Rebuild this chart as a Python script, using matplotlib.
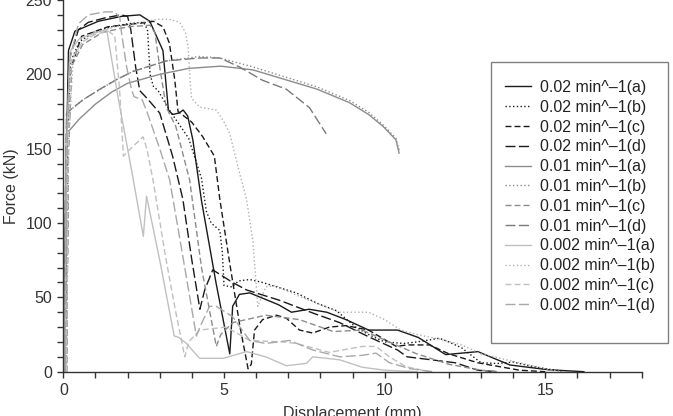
import matplotlib
matplotlib.use("Agg")
import matplotlib.pyplot as plt
from matplotlib.patches import Rectangle
from matplotlib.ticker import MultipleLocator

plt.rcParams['font.family'] = ['Liberation Sans', 'DejaVu Sans']
plt.rcParams['lines.scale_dashes'] = False

# displacement (mm) / force (kN)
x_02a = [0.05, 0.10, 0.16, 0.36, 1.09, 1.81, 2.38, 2.69, 2.85, 3.10, 3.27, 3.40, 3.60, 3.73, 3.87, 4.03, 4.30, 4.75, 5.18, 5.27, 5.48, 5.80, 6.70, 7.10, 7.65, 8.20, 8.80, 9.50, 10.40, 11.05, 11.90, 12.40, 12.90, 13.90, 15.10, 16.20]
f_02a = [0, 150, 216, 229, 235.7, 239, 240, 235.7, 228, 216, 176, 173, 174, 176, 172, 156, 115, 60, 12, 44, 52, 53, 45, 40, 42, 40, 35, 28, 28, 23, 11.5, 12.5, 13.5, 4.5, 1.3, 0]

x_02b = [0.08, 0.13, 0.22, 0.5, 1.0, 1.5, 2.0, 2.5, 2.62, 2.70, 2.80, 2.95, 3.30, 3.90, 4.30, 4.45, 4.60, 4.87, 4.95, 5.00, 5.25, 5.45, 5.80, 6.20, 7.25, 7.90, 8.50, 9.10, 9.50, 10.0, 10.6, 11.0, 11.7, 12.0, 12.4, 13.0, 13.5, 14.0, 14.5, 15.0, 15.5]
f_02b = [0, 150, 208, 222, 229, 232, 234, 235, 230, 200, 192, 189, 176, 157, 130, 108, 100, 95, 80, 58, 57, 61, 62, 60, 53, 46, 41, 30, 25, 20, 19, 20, 22.5, 20, 16, 6, 5.5, 6.5, 4, 2, 0.5]

x_02c = [0.10, 0.16, 0.25, 0.57, 1.39, 2.0, 2.64, 2.80, 3.10, 3.30, 3.47, 3.57, 3.99, 4.34, 4.70, 4.87, 5.20, 5.50, 5.75, 5.85, 5.95, 6.20, 6.63, 6.94, 7.35, 7.76, 8.28, 8.80, 9.50, 10.36, 10.70, 11.40, 12.0, 12.9, 14.2, 15.0]
f_02c = [0, 150, 205, 225.6, 232, 233.5, 235, 235.7, 232, 221, 196, 175, 168, 158, 145, 116, 70, 30, 2, 5, 28, 35, 38, 36, 28, 26, 30, 31, 28, 17, 18, 18, 12, 6, 1, 0]

x_02d = [0.05, 0.10, 0.18, 0.47, 0.78, 1.30, 1.80, 2.00, 2.10, 2.25, 2.38, 2.60, 3.00, 3.40, 3.72, 4.00, 4.25, 4.40, 4.65, 5.27, 5.70, 6.73, 7.76, 8.60, 9.50, 10.40, 10.70, 12.20, 12.90, 13.50]
f_02d = [0, 150, 210, 230, 235, 238, 240, 239, 230, 205, 189, 184, 174, 145, 116, 75, 42, 55, 68.5, 60, 55, 48, 39.5, 33, 23.5, 14.6, 10, 6, 1, 0]

x_01a = [0.02, 0.05, 0.10, 0.50, 1.00, 1.50, 2.00, 3.00, 3.90, 4.90, 5.90, 6.90, 7.90, 8.90, 9.50, 9.95, 10.35, 10.45]
f_01a = [0, 100, 160, 170, 180, 188, 194, 200, 204, 205.5, 203, 196.5, 190, 181, 173, 165, 156, 147]

x_01b = [0.04, 0.07, 0.10, 0.62, 1.14, 1.66, 2.17, 3.20, 4.24, 4.87, 5.90, 6.94, 7.90, 8.90, 9.50, 9.95, 10.35, 10.45]
f_01b = [0, 110, 174, 183, 190, 196.5, 202, 209, 212, 211, 205, 198, 191.5, 182.5, 174.5, 166, 157, 149]

x_01c = [0.10, 0.15, 0.25, 0.60, 1.20, 2.00, 2.70, 2.85, 3.00, 3.20, 3.50, 3.93, 4.30, 4.76, 4.90, 5.27, 6.30, 7.35, 8.40, 9.30, 10.35, 11.00, 12.00, 13.00, 13.50]
f_01c = [0, 150, 205, 220, 228, 232, 233, 228, 205, 178, 165, 129, 70, 17, 25, 33, 38, 35, 27, 28, 18, 12, 5, 1, 0]

x_01d = [0.03, 0.06, 0.10, 0.62, 1.14, 1.66, 2.17, 3.20, 4.24, 4.87, 5.48, 6.20, 6.94, 7.66, 8.18]
f_01d = [0, 110, 174, 183, 190, 196.5, 202, 209, 211, 211, 205, 196, 190, 177.6, 160]

x_002a = [0.05, 0.10, 0.20, 0.50, 1.00, 1.35, 1.70, 2.17, 2.49, 2.59, 3.00, 3.45, 3.60, 3.83, 4.24, 4.97, 5.30, 5.70, 6.30, 6.94, 7.57, 7.76, 8.60, 9.30, 10.00, 11.00]
f_002a = [0, 150, 215, 224, 228, 230, 185, 130, 91, 118, 75, 24, 23, 19, 9, 9, 11, 13.5, 10, 4, 5.6, 10, 8, 3, 1, 0]

x_002b = [0.10, 0.16, 0.30, 0.60, 1.00, 1.60, 2.20, 2.90, 3.30, 3.62, 3.80, 3.88, 3.95, 3.99, 4.24, 4.76, 5.00, 5.18, 5.48, 5.70, 5.90, 6.05, 6.30, 6.60, 7.20, 8.00, 8.60, 9.50, 10.00, 10.50, 11.00, 11.70, 12.40, 13.00, 14.00, 15.00, 15.50]
f_002b = [0, 150, 210, 222, 228, 232, 234, 237, 237, 235, 228, 219, 195, 184, 178, 176, 168, 160, 134, 116, 88, 44, 57, 58, 52, 45, 40, 40, 35, 28, 25, 22, 18, 12, 7, 2, 0]

x_002c = [0.10, 0.15, 0.25, 0.60, 1.00, 1.40, 1.60, 1.75, 1.87, 2.00, 2.48, 2.60, 2.79, 3.20, 3.50, 3.78, 3.90, 4.24, 5.07, 5.80, 6.84, 7.25, 8.28, 9.30, 9.73, 10.15, 10.66, 11.40]
f_002c = [0, 150, 210, 222, 227, 229, 226, 190, 145, 148, 158, 150, 129, 75, 40, 10, 20, 28, 30, 21, 20, 19, 13, 17, 17, 10, 3.4, 0]

x_002d = [0.05, 0.10, 0.20, 0.47, 0.78, 1.30, 1.60, 1.76, 1.81, 1.97, 2.12, 2.20, 2.45, 2.60, 3.00, 3.31, 3.70, 4.14, 4.25, 4.55, 4.76, 5.27, 5.80, 6.30, 7.04, 7.76, 8.60, 9.30, 9.73, 10.15, 10.80, 11.50]
f_002d = [0, 150, 210, 234, 240, 242, 242, 238, 228, 205, 190, 185, 183, 175, 150, 129, 80, 24, 30, 44, 44, 37, 21, 19, 21, 14.6, 10, 11, 12.5, 6, 2, 0]

labels = ['0.02 min^–1(a)', '0.02 min^–1(b)', '0.02 min^–1(c)', '0.02 min^–1(d)',
          '0.01 min^–1(a)', '0.01 min^–1(b)', '0.01 min^–1(c)', '0.01 min^–1(d)',
          '0.002 min^–1(a)', '0.002 min^–1(b)', '0.002 min^–1(c)', '0.002 min^–1(d)']

# line styles (in points): solid, dotted, short dash, long dash
dot = (0, (1.0, 1.7))
short = (0, (4.3, 2.2))
long_ = (0, (7.2, 2.5))

series = [
    (x_02a, f_02a, '#1a1a1a', '-'),
    (x_02b, f_02b, '#1a1a1a', dot),
    (x_02c, f_02c, '#1a1a1a', short),
    (x_02d, f_02d, '#1a1a1a', long_),
    (x_01a, f_01a, '#8c8c8c', '-'),
    (x_01b, f_01b, '#8c8c8c', dot),
    (x_01c, f_01c, '#8c8c8c', short),
    (x_01d, f_01d, '#7a7a7a', long_),
    (x_002a, f_002a, '#c0c0c0', '-'),
    (x_002b, f_002b, '#b0b0b0', dot),
    (x_002c, f_002c, '#c0c0c0', short),
    (x_002d, f_002d, '#a8a8a8', long_),
]

fig = plt.figure(figsize=(6.73, 4.16), dpi=100)
ax = fig.add_axes([0.0941, 0.1065, 0.8594, 0.8935])

for (x, f, c, ls), lab in zip(series, labels):
    ax.plot(x, f, color=c, linestyle=ls, lw=1.0, label=lab)

ax.set_xlim(0, 18)
ax.set_ylim(0, 250)
ax.xaxis.set_major_locator(MultipleLocator(5))
ax.xaxis.set_minor_locator(MultipleLocator(1))
ax.yaxis.set_major_locator(MultipleLocator(50))
ax.yaxis.set_minor_locator(MultipleLocator(10))
for s in ['top', 'right']:
    ax.spines[s].set_visible(False)
for s in ['left', 'bottom']:
    ax.spines[s].set_color('#333333')
    ax.spines[s].set_linewidth(1.0)
ax.tick_params(which='both', direction='out', length=4, width=1.0, color='#333333',
               labelsize=11.5, labelcolor='#333333', pad=4)
ax.set_xlabel('Displacement (mm)', fontsize=11.5, color='#333333', labelpad=6)
ax.set_ylabel('Force (kN)', fontsize=11.5, color='#333333', labelpad=5)

# legend box
fig.patches.append(Rectangle((491 / 673, 1 - 343 / 416), 177 / 673, 281 / 416,
                             transform=fig.transFigure, facecolor='white',
                             edgecolor='#808080', lw=1.0, zorder=4))
handles, labs = ax.get_legend_handles_labels()
leg = fig.legend(handles, labs, loc='upper left', bbox_to_anchor=(505 / 673, 1 - 80 / 416),
                 frameon=False, borderpad=0, borderaxespad=0, fontsize=11.5,
                 handlelength=1.63, handletextpad=0.56, labelspacing=0.3)
leg.set_zorder(5)
for t in leg.get_texts():
    t.set_color('#222222')

fig.savefig('out.png', dpi=100)
